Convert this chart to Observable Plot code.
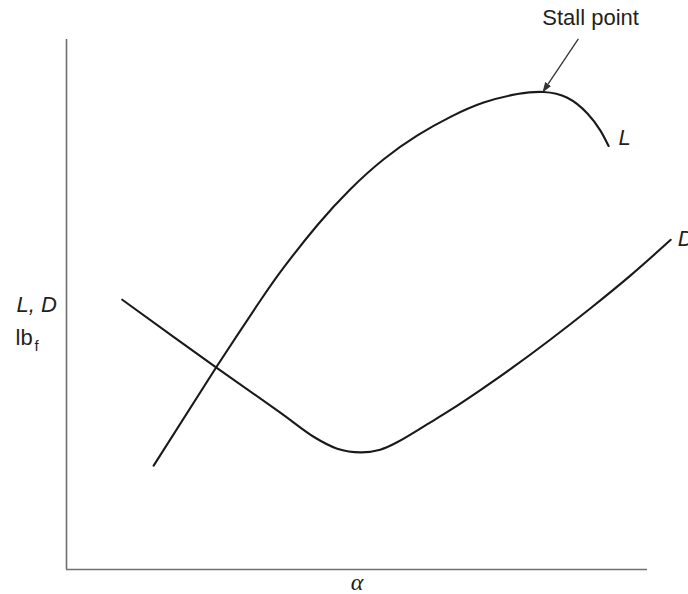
<!DOCTYPE html>
<html>
<head>
<meta charset="utf-8">
<script src="https://cdn.jsdelivr.net/npm/d3@7"></script>
<script src="https://cdn.jsdelivr.net/npm/@observablehq/plot@0.6"></script>
<style>
  html, body { margin: 0; padding: 0; background: #fff; }
  #chart svg { display: block; }
</style>
</head>
<body>
<div id="chart"></div>
<script>
// Lift curve L(α): rises, peaks at the stall point, then drops
const liftAlpha = [1.50, 2.58, 3.34, 3.74, 4.32, 4.89, 5.46, 6.04, 6.61, 7.18, 7.76, 8.21, 8.62, 8.97, 9.19, 9.33];
const liftForce = [1.96, 3.82, 5.08, 5.70, 6.50, 7.18, 7.74, 8.19, 8.54, 8.81, 8.97, 9.01, 8.90, 8.60, 8.28, 7.99];

// Drag curve D(α): falls to a minimum, then rises
const dragAlpha = [0.96, 2.58, 3.68, 4.26, 4.66, 5.06, 5.40, 5.69, 6.27, 6.61, 7.13, 7.64, 8.33, 9.02, 9.71, 10.40];
const dragForce = [5.09, 3.81, 2.96, 2.50, 2.28, 2.21, 2.26, 2.40, 2.78, 3.01, 3.39, 3.78, 4.34, 4.93, 5.55, 6.22];

// Stall point = maximum of the lift curve
const stallIndex = liftForce.indexOf(Math.max(...liftForce));
const stall = {alpha: liftAlpha[stallIndex], force: liftForce[stallIndex]};

const lift = liftAlpha.map((a, i) => ({alpha: a, force: liftForce[i]}));
const drag = dragAlpha.map((a, i) => ({alpha: a, force: dragForce[i]}));

const font = "'Liberation Sans', Arial, sans-serif";
const ink = "#231f20";

// Filled triangular arrowhead
function filledHead(color) {
  return d3.create("svg:marker")
    .attr("viewBox", "-6 -5 10 10")
    .attr("markerWidth", 9)
    .attr("markerHeight", 9)
    .attr("markerUnits", "userSpaceOnUse")
    .attr("refX", 3)
    .attr("orient", "auto")
    .attr("fill", color)
    .call(m => m.append("path").attr("d", "M-6,-3.2L3,0L-6,3.2Z"))
    .node();
}

const chart = Plot.plot({
  width: 688,
  height: 594,
  marginLeft: 66,
  marginRight: 41,
  marginTop: 39,
  marginBottom: 25,
  x: {domain: [0, 10], axis: null},
  y: {domain: [0, 10], axis: null},
  style: {fontFamily: font, background: "#fff", overflow: "visible"},
  marks: [
    // axes
    Plot.ruleX([0], {stroke: "#707070", strokeWidth: 1.6}),
    Plot.ruleY([0], {stroke: "#707070", strokeWidth: 1.6}),
    // curves
    Plot.line(lift, {x: "alpha", y: "force", curve: "natural", stroke: "#1a1a1a", strokeWidth: 2.1}),
    Plot.line(drag, {x: "alpha", y: "force", curve: "catmull-rom", stroke: "#1a1a1a", strokeWidth: 2.1}),
    // stall annotation
    Plot.link([stall], {
      x1: d => d.alpha + 0.6, y1: d => d.force + 1.0,
      x2: "alpha", y2: d => d.force + 0.02,
      stroke: "#333", strokeWidth: 1.3,
      markerEnd: filledHead
    }),
    Plot.text([stall], {
      x: d => d.alpha + 0.81, y: d => d.force + 1.4,
      text: () => "Stall point", fontSize: 22, fill: ink, textAnchor: "middle", lineAnchor: "middle"
    }),
    // curve labels
    Plot.text([lift[lift.length - 1]], {
      x: "alpha", y: "force", text: () => "L", dx: 10, dy: -8,
      fontSize: 22, fontStyle: "italic", fill: ink, textAnchor: "start", lineAnchor: "middle"
    }),
    Plot.text([drag[drag.length - 1]], {
      x: "alpha", y: "force", text: () => "D", dx: 7, dy: -1,
      fontSize: 22, fontStyle: "italic", fill: ink, textAnchor: "start", lineAnchor: "middle"
    }),
    // axis titles
    Plot.text(["L, D"], {
      frameAnchor: "left", y: 5.0, text: d => d, dx: -50,
      fontSize: 22, fontStyle: "italic", fill: ink, textAnchor: "start", lineAnchor: "middle"
    }),
    Plot.text(["lb"], {
      frameAnchor: "left", y: 4.36, text: d => d, dx: -51,
      fontSize: 22, fill: ink, textAnchor: "start", lineAnchor: "middle"
    }),
    Plot.text(["f"], {
      frameAnchor: "left", y: 4.22, text: d => d, dx: -32,
      fontSize: 15, fill: ink, textAnchor: "start", lineAnchor: "middle"
    }),
    Plot.text(["α"], {
      frameAnchor: "bottom", x: 5, text: d => d, dy: 13,
      fontSize: 24, fontStyle: "italic", fontFamily: "'Liberation Serif', 'Times New Roman', serif",
      fill: ink, textAnchor: "middle", lineAnchor: "middle"
    })
  ]
});

document.getElementById("chart").append(chart);
</script>
</body>
</html>
